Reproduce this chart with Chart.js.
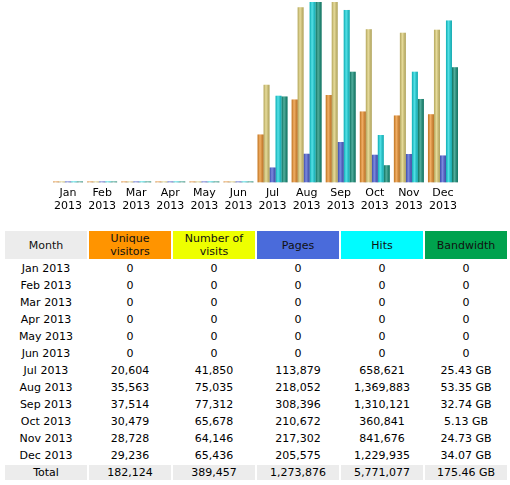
<!DOCTYPE html>
<html>
<head>
<meta charset="utf-8">
<script src="https://cdn.jsdelivr.net/npm/chart.js@4/dist/chart.umd.min.js"></script>
<style>
  body { margin: 0; background: #fff; font-family: "DejaVu Sans", Verdana, sans-serif; }
  #wrap { position: relative; width: 510px; height: 217px; }
  #stats { position: absolute; top: 229px; left: 3px; width: 506px; border-spacing: 2px; table-layout: fixed; font-size: 11px; color: #000; }
  #stats th { font-weight: normal; height: 28px; line-height: 13px; padding: 0 5px; vertical-align: middle; color: #111; }
  #stats td { height: 15px; line-height: 15px; padding: 0; text-align: center; white-space: nowrap; }
  #stats tr.total td { background: #ececec; }
</style>
</head>
<body>
<div id="wrap"><canvas id="monthChart"></canvas></div>
<table id="stats"></table>
<script>
// Monthly history 2013
const months = ['Jan', 'Feb', 'Mar', 'Apr', 'May', 'Jun', 'Jul', 'Aug', 'Sep', 'Oct', 'Nov', 'Dec'];
const year = '2013';
const uniqueVisitors = [0, 0, 0, 0, 0, 0, 20604, 35563, 37514, 30479, 28728, 29236];
const visits = [0, 0, 0, 0, 0, 0, 41850, 75035, 77312, 65678, 64146, 65436];
const pages = [0, 0, 0, 0, 0, 0, 113879, 218052, 308396, 210672, 217302, 205575];
const hits = [0, 0, 0, 0, 0, 0, 658621, 1369883, 1310121, 360841, 841676, 1229935];
const bandwidthGB = [0, 0, 0, 0, 0, 0, 25.43, 53.35, 32.74, 5.13, 24.73, 34.07];
const totals = ['182,124', '389,457', '1,273,876', '5,771,077', '175.46 GB'];
const headers = ['Month', 'Unique visitors', 'Number of visits', 'Pages', 'Hits', 'Bandwidth'];
const headerColors = ['#ececec', '#ff9400', '#eeff00', '#4a6bdb', '#00fcff', '#00a24e'];

// Bar shading: darker edges, lighter middle
const barShading = {
  id: 'barShading',
  afterDatasetsDraw(chart) {
    const c = chart.ctx;
    chart.data.datasets.forEach((ds, i) => {
      chart.getDatasetMeta(i).data.forEach(bar => {
        const p = bar.getProps(['x', 'y', 'base', 'width'], true);
        const left = p.x - p.width / 2;
        const g = c.createLinearGradient(left, 0, left + p.width, 0);
        g.addColorStop(0, 'rgba(0,0,0,0.18)');
        g.addColorStop(0.4, 'rgba(255,255,255,0.28)');
        g.addColorStop(1, 'rgba(0,0,0,0.22)');
        c.save();
        c.fillStyle = g;
        c.fillRect(left, Math.min(p.y, p.base), p.width, Math.abs(p.base - p.y));
        c.restore();
      });
    });
  }
};

const ctx = document.getElementById('monthChart').getContext('2d');
new Chart(ctx, {
  type: 'bar',
  data: {
    labels: months.map(m => [m, year]),
    datasets: [
      { label: 'Unique visitors', data: uniqueVisitors, backgroundColor: '#ef922c', yAxisID: 'yVisits' },
      { label: 'Number of visits', data: visits, backgroundColor: '#e0d076', yAxisID: 'yVisits' },
      { label: 'Pages', data: pages, backgroundColor: '#4c5fd6', yAxisID: 'yHits' },
      { label: 'Hits', data: hits, backgroundColor: '#14d8e0', yAxisID: 'yHits' },
      { label: 'Bandwidth', data: bandwidthGB, backgroundColor: '#12917a', yAxisID: 'yBw' }
    ]
  },
  options: {
    responsive: true,
    maintainAspectRatio: false,
    animation: false,
    layout: { padding: { left: 51, right: 50, top: 2, bottom: 0 } },
    datasets: { bar: { categoryPercentage: 0.88, barPercentage: 1.0, minBarLength: 1 } },
    plugins: { legend: { display: false }, tooltip: { enabled: false } },
    scales: {
      x: {
        grid: { display: false, drawTicks: false },
        border: { display: false },
        ticks: { color: '#000', font: { family: 'DejaVu Sans', size: 11 }, maxRotation: 0, autoSkip: false, padding: 4 }
      },
      yVisits: { display: false, min: 0, max: Math.max(...visits) },
      yHits: { display: false, min: 0, max: Math.max(...hits) },
      yBw: { display: false, min: 0, max: Math.max(...bandwidthGB) }
    }
  },
  plugins: [barShading]
});

// Table below the chart
const fmt = v => v.toLocaleString('en-US');
const table = document.getElementById('stats');
let html = '<tr>' + headers.map((h, i) => `<th style="background:${headerColors[i]}">${h}</th>`).join('') + '</tr>';
months.forEach((m, i) => {
  const bw = bandwidthGB[i] ? bandwidthGB[i].toFixed(2) + ' GB' : '0';
  html += `<tr><td>${m} ${year}</td><td>${fmt(uniqueVisitors[i])}</td><td>${fmt(visits[i])}</td><td>${fmt(pages[i])}</td><td>${fmt(hits[i])}</td><td>${bw}</td></tr>`;
});
html += '<tr class="total"><td>Total</td>' + totals.map(t => `<td>${t}</td>`).join('') + '</tr>';
table.innerHTML = html;
</script>
</body>
</html>
